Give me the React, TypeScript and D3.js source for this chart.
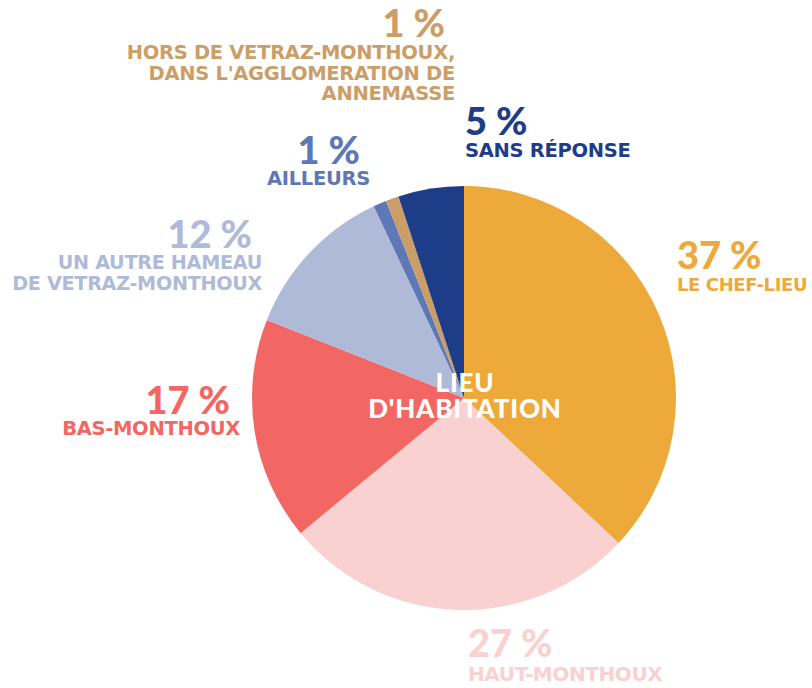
import React from "react";
import * as d3 from "d3";

const categories = [
  "LE CHEF-LIEU",
  "HAUT-MONTHOUX",
  "BAS-MONTHOUX",
  "UN AUTRE HAMEAU DE VETRAZ-MONTHOUX",
  "AILLEURS",
  "HORS DE VETRAZ-MONTHOUX, DANS L'AGGLOMERATION DE ANNEMASSE",
  "SANS RÉPONSE",
];
const values = [37, 27, 17, 12, 1, 1, 5];
const colors = ["#EDA93A", "#F9D1D0", "#F26763", "#AEBAD8", "#5D78B4", "#CB9E68", "#1E3D89"];

// label lines per category
const labelLines = [
  ["LE CHEF-LIEU"],
  ["HAUT-MONTHOUX"],
  ["BAS-MONTHOUX"],
  ["UN AUTRE HAMEAU", "DE VETRAZ-MONTHOUX"],
  ["AILLEURS"],
  ["HORS DE VETRAZ-MONTHOUX,", "DANS L'AGGLOMERATION DE", "ANNEMASSE"],
  ["SANS RÉPONSE"],
];
// label placement: x, baseline of percentage, baseline of first label line, anchor
const labelPos: [number, number, number, "start" | "end"][] = [
  [677, 269, 291, "start"],
  [468, 657, 681, "start"],
  [240, 414, 435, "end"],
  [262, 248, 269, "end"],
  [370, 164, 185, "end"],
  [455, 37, 59, "end"],
  [465, 135, 157, "start"],
];
const labelSizes = [18, 20, 19.5, 19.2, 19.5, 19.5, 19.5];

const W = 812;
const H = 688;
const cx = 464;
const cy = 398;
const R = 212;
const PFONT = "Lato, 'Open Sans', sans-serif";
const LFONT = "'DejaVu Sans', sans-serif";

export default function App() {
  const pie = d3.pie<number>().sort(null).value((d) => d);
  const arcs = pie(values);
  const arc = d3.arc<d3.PieArcDatum<number>>().innerRadius(0).outerRadius(R);
  return (
    <svg width={W} height={H} style={{ position: "absolute", left: 0, top: 0 }}>
      <rect width={W} height={H} fill="#fff" />
      <g transform={`translate(${cx},${cy})`}>
        {arcs.map((a, i) => (
          <path key={i} d={arc(a) || ""} fill={colors[i]} />
        ))}
      </g>
      {values.map((v, i) => {
        const [x, yp, yl, anchor] = labelPos[i];
        const lines = labelLines[i];
        const lh = i === 5 ? 20.5 : 21;
        return (
          <g key={i} fill={colors[i]} fontWeight={900} textAnchor={anchor}>
            <text x={anchor === "end" ? x - 10 : x} y={yp} fontSize={38} fontFamily={PFONT}>
              {v} %
            </text>
            {lines.map((l, j) => (
              <text key={j} x={x} y={yl + j * lh} fontSize={labelSizes[i]} fontFamily={LFONT} fontWeight={700} letterSpacing={i === 1 || i === 0 ? -0.4 : -0.3}>
                {l}
              </text>
            ))}
          </g>
        );
      })}
      <g fill="#fff" fontFamily={PFONT} fontWeight={900} textAnchor="middle" fontSize={26} letterSpacing={0.8}>
        <text x={465} y={392}>LIEU</text>
        <text x={465} y={418}>D'HABITATION</text>
      </g>
    </svg>
  );
}
